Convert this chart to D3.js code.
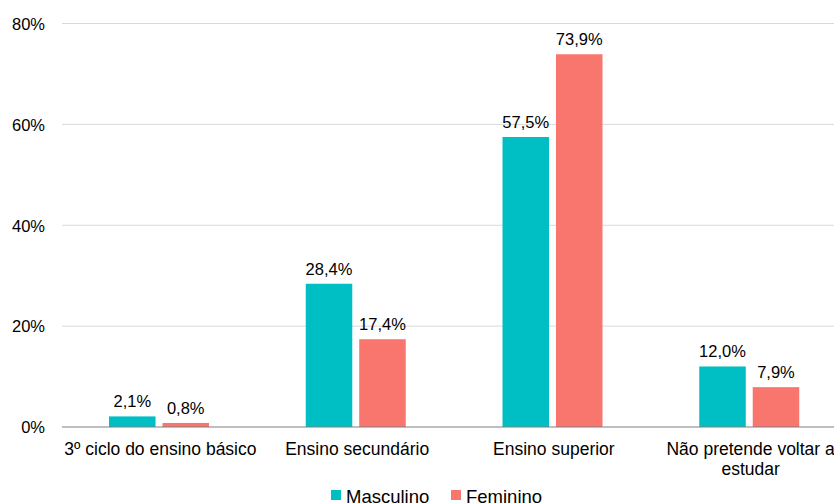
<!DOCTYPE html>
<html>
<head>
<meta charset="UTF-8">
<script src="https://cdn.jsdelivr.net/npm/d3@7"></script>
<style>
  body { margin: 0; background: #fff; }
  text { font-family: "Liberation Sans", Arial, sans-serif; fill: #000; }
</style>
</head>
<body>
<script>
var categories = ["3º ciclo do ensino básico", "Ensino secundário", "Ensino superior", "Não pretende voltar a estudar"];
var series = ["Masculino", "Feminino"];
var masculino = [2.1, 28.4, 57.5, 12.0];
var feminino = [0.8, 17.4, 73.9, 7.9];
var yTicks = [0, 20, 40, 60, 80];
var colors = ["#00BFC4", "#F8766D"];

var W = 834, H = 503;
var mLeft = 62, mTop = 23.5, plotW = 787, plotH = 403.5;

var svg = d3.select("body").append("svg")
    .attr("width", W).attr("height", H);

var x = d3.scaleBand().domain(categories).range([mLeft, mLeft + plotW]);
var xs = d3.scaleBand().domain(series).range([47, 147]).paddingInner(0.13);
var y = d3.scaleLinear().domain([0, 80]).range([mTop + plotH, mTop]);

// grid
svg.append("g").selectAll("line").data(yTicks.slice(1)).enter().append("line")
    .attr("x1", mLeft).attr("x2", W)
    .attr("y1", function(d){ return y(d); }).attr("y2", function(d){ return y(d); })
    .attr("stroke", "#d9d9d9").attr("stroke-width", 1);

// y axis
var gy = svg.append("g").attr("transform", "translate(" + (mLeft - 17) + ",0)")
    .call(d3.axisLeft(y).tickValues(yTicks).tickSize(0).tickFormat(function(d){ return d + "%"; }));
gy.select(".domain").remove();
gy.selectAll("text").attr("font-size", "16.5px").attr("x", 0).attr("dy", "0.35em")
    .style("font-family", "'Liberation Sans', Arial, sans-serif");

var data = categories.map(function(c, i){
    return {cat: c, vals: [{s: series[0], v: masculino[i]}, {s: series[1], v: feminino[i]}]};
});

var groups = svg.append("g").selectAll("g").data(data).enter().append("g")
    .attr("transform", function(d){ return "translate(" + x(d.cat) + ",0)"; });

groups.selectAll("rect").data(function(d){ return d.vals; }).enter().append("rect")
    .attr("x", function(d){ return xs(d.s); })
    .attr("width", xs.bandwidth())
    .attr("y", function(d){ return y(d.v); })
    .attr("height", function(d){ return y(0) - y(d.v); })
    .attr("fill", function(d, i){ return colors[i]; });

groups.selectAll("text.val").data(function(d){ return d.vals; }).enter().append("text")
    .attr("class", "val")
    .attr("x", function(d){ return xs(d.s) + xs.bandwidth() / 2; })
    .attr("y", function(d){ return y(d.v) - 9; })
    .attr("text-anchor", "middle")
    .attr("font-size", "16.5px")
    .text(function(d){ return d.v.toFixed(1).replace(".", ",") + "%"; });

// baseline
svg.append("line").attr("x1", mLeft).attr("x2", W)
    .attr("y1", y(0)).attr("y2", y(0))
    .attr("stroke", "#7f7f7f").attr("stroke-width", 1);

// x axis labels
var gx = svg.append("g").attr("transform", "translate(0," + y(0) + ")")
    .call(d3.axisBottom(x).tickSize(0));
gx.select(".domain").remove();
gx.selectAll("text").attr("font-size", "17.5px").attr("dy", null).attr("y", 0)
    .style("font-family", "'Liberation Sans', Arial, sans-serif")
    .each(function(d){
        var t = d3.select(this);
        t.text(null);
        var lines = d === "Não pretende voltar a estudar" ? ["Não pretende voltar a", "estudar"] : [d];
        lines.forEach(function(l, k){
            t.append("tspan").attr("x", 0).attr("y", 28 + k * 20).text(l);
        });
    });

// legend
var legend = svg.append("g");
var lx = [331, 451];
series.forEach(function(s, i){
    legend.append("rect").attr("x", lx[i]).attr("y", 490).attr("width", 10).attr("height", 10)
        .attr("fill", colors[i]);
    legend.append("text").attr("x", lx[i] + 15).attr("y", 503)
        .attr("font-size", "18.5px").text(s);
});
</script>
</body>
</html>
